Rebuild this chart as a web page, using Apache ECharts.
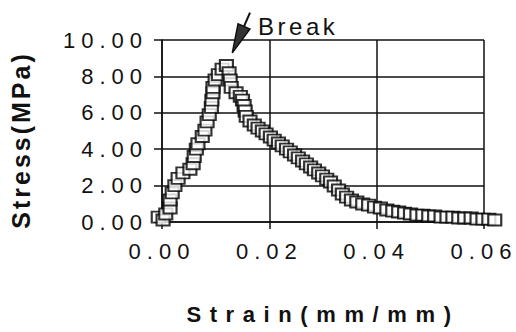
<!DOCTYPE html>
<html><head><meta charset="utf-8">
<script src="https://cdn.jsdelivr.net/npm/echarts@6/dist/echarts.min.js"></script>
<style>html,body{margin:0;padding:0;background:#fff}#c{width:516px;height:332px}</style>
</head><body><div id="c"></div>
<script>
// ---- data ----
const strain = [-0.0007,0.0002,0.0007,0.0015,0.0015,0.0019,0.0024,0.0030,0.0039,0.0052,0.0058,0.0060,0.0064,0.0067,0.0075,0.0080,0.0084,0.0088,0.0092,0.0093,0.0095,0.0095,0.0099,0.0105,0.0112,0.0120,0.0125,0.0127,0.0129,0.0138,0.0146,0.0150,0.0153,0.0155,0.0157,0.0164,0.0172,0.0179,0.0187,0.0194,0.0202,0.0209,0.0217,0.0224,0.0232,0.0239,0.0247,0.0254,0.0262,0.0269,0.0277,0.0284,0.0292,0.0299,0.0307,0.0314,0.0321,0.0329,0.0336,0.0344,0.0353,0.0363,0.0374,0.0385,0.0396,0.0407,0.0419,0.0430,0.0441,0.0452,0.0463,0.0475,0.0486,0.0497,0.0508,0.0520,0.0531,0.0542,0.0553,0.0564,0.0576,0.0587,0.0598,0.0609,0.0620];
const stress = [0.27,0.11,0.44,0.77,1.21,1.60,2.00,2.40,2.70,2.90,3.20,3.60,4.00,4.30,4.70,5.05,5.50,5.90,6.30,6.70,7.10,7.40,7.80,8.10,8.40,8.60,8.20,7.80,7.40,7.10,6.90,6.70,6.40,6.10,5.80,5.55,5.33,5.16,5.00,4.84,4.67,4.50,4.34,4.18,4.00,3.85,3.68,3.52,3.35,3.19,3.02,2.86,2.69,2.53,2.36,2.20,1.98,1.76,1.54,1.37,1.21,1.10,0.99,0.93,0.82,0.77,0.66,0.60,0.55,0.49,0.44,0.38,0.38,0.33,0.33,0.27,0.27,0.27,0.22,0.22,0.22,0.16,0.16,0.16,0.11];
const xTickLabels = ['0.00','0.02','0.04','0.06'];
const yTickLabels = ['0.00','2.00','4.00','6.00','8.00','10.00'];
const xTitle = 'Strain(mm/mm)';
const yTitle = 'Stress(MPa)';
const annotText = 'Break';
const annotTail = [0.0164, 11.5];
const annotTip = [0.0131, 9.29];
const annotLabelAt = [0.0179, 10.1];

const FONT = '"Liberation Sans", Arial, Helvetica, sans-serif';
const INK = '#111';
const chart = echarts.init(document.getElementById('c'), null, {renderer: 'svg', width: 516, height: 332});

const pts = strain.map((s, i) => [s, stress[i]]);

chart.setOption({
  animation: false,
  backgroundColor: '#fff',
  grid: {left: 162, top: 40, width: 322, height: 182, show: false},
  xAxis: {
    type: 'value', min: 0, max: 0.06, interval: 0.02,
    name: xTitle, nameLocation: 'middle', nameGap: 81,
    nameTextStyle: {fontFamily: FONT, fontSize: 22, fontWeight: 'bold', color: INK},
    axisLine: {show: true, onZero: false, lineStyle: {color: INK, width: 1.5}},
    axisTick: {show: true, length: 7, lineStyle: {color: INK, width: 1.5}},
    axisLabel: {margin: 18, fontFamily: FONT, fontSize: 22, color: INK,
      formatter: (v, i) => xTickLabels[i]},
    splitLine: {show: true, lineStyle: {color: INK, width: 1.5}}
  },
  yAxis: {
    type: 'value', min: 0, max: 10, interval: 2,
    name: yTitle, nameLocation: 'middle', nameGap: 129,
    nameTextStyle: {fontFamily: FONT, fontSize: 25, fontWeight: 'bold', color: INK, padding: [0, 18, 0, 0]},
    axisLine: {show: true, onZero: false, lineStyle: {color: INK, width: 1.5}},
    axisTick: {show: true, length: 8, lineStyle: {color: INK, width: 1.5}},
    axisLabel: {margin: 14, fontFamily: FONT, fontSize: 22, color: INK,
      formatter: (v, i) => yTickLabels[i]},
    splitLine: {show: true, lineStyle: {color: INK, width: 1.5}}
  },
  series: [{
    type: 'scatter', data: pts, clip: false,
    symbol: 'rect', symbolSize: [13, 11],
    itemStyle: {color: '#fff', borderColor: '#000', borderWidth: 2}
  }]
});

// annotation arrow and label, positioned through the axes
const tip = chart.convertToPixel({gridIndex: 0}, annotTip);
const tail = chart.convertToPixel({gridIndex: 0}, annotTail);
const lab = chart.convertToPixel({gridIndex: 0}, annotLabelAt);
const dx = tail[0] - tip[0], dy = tail[1] - tip[1];
const L = Math.hypot(dx, dy), ux = dx / L, uy = dy / L;
const headLen = 29, halfW = 6.5;
const bx = tip[0] + ux * headLen, by = tip[1] + uy * headLen;
chart.setOption({
  graphic: [
    {type: 'line', shape: {x1: tail[0], y1: tail[1], x2: bx, y2: by}, style: {stroke: INK, lineWidth: 2}},
    {type: 'polygon', shape: {points: [[tip[0], tip[1]], [bx - uy * halfW, by + ux * halfW], [bx + uy * halfW, by - ux * halfW]]},
      style: {fill: '#333', stroke: INK, lineWidth: 1.5}},
    {type: 'text', x: lab[0], y: lab[1], style: {text: annotText, fontFamily: FONT, fontSize: 24, fill: INK, textAlign: 'left', textVerticalAlign: 'bottom'}}
  ]
});

function spaceText() {
  chart.getDom().querySelectorAll('text').forEach(t => {
    const s = t.textContent.trim();
    let ls = 0;
    if (s === xTitle) ls = 8.6;
    else if (s === yTitle) ls = 3;
    else if (s === annotText) ls = 3.5;
    else if (/^\d+\.\d\d$/.test(s)) ls = 6;
    if (ls) t.style.letterSpacing = ls + 'px';
  });
}
spaceText();
chart.on('finished', spaceText);
</script></body></html>
